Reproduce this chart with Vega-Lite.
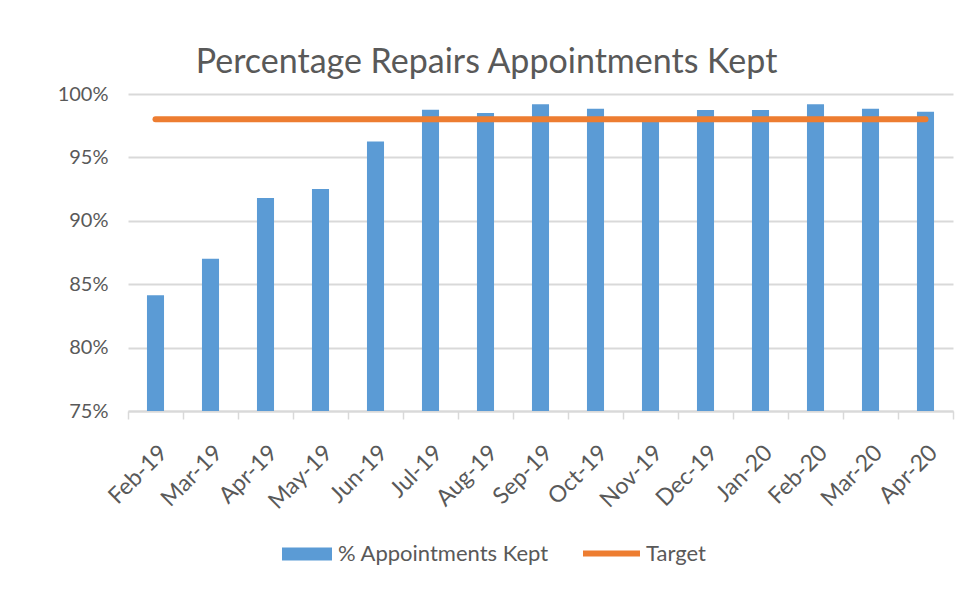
{
  "$schema": "https://vega.github.io/schema/vega-lite/v6.json",
  "width": 825,
  "height": 317,
  "autosize": "none",
  "padding": {"left": 128, "top": 94, "right": 2, "bottom": 186},
  "background": "#ffffff",
  "config": {
    "font": "Lato",
    "view": {"stroke": null},
    "axis": {"labelFont": "Lato", "labelColor": "#595959", "labelFontSize": 20, "titleColor": "#595959"},
    "legend": {"labelFont": "Lato", "labelColor": "#595959", "labelFontSize": 22, "labelLimit": 0}
  },
  "title": {
    "text": "Percentage Repairs Appointments Kept",
    "font": "Lato",
    "fontSize": 34,
    "fontWeight": "normal",
    "color": "#595959",
    "anchor": "middle",
    "frame": "group",
    "dx": -54,
    "offset": 4
  },
  "data": {
    "values": [
      {"month": "Feb-19", "value": 0.8413, "target": 0.98},
      {"month": "Mar-19", "value": 0.870, "target": 0.98},
      {"month": "Apr-19", "value": 0.918, "target": 0.98},
      {"month": "May-19", "value": 0.925, "target": 0.98},
      {"month": "Jun-19", "value": 0.9626, "target": 0.98},
      {"month": "Jul-19", "value": 0.9876, "target": 0.98},
      {"month": "Aug-19", "value": 0.985, "target": 0.98},
      {"month": "Sep-19", "value": 0.9919, "target": 0.98},
      {"month": "Oct-19", "value": 0.9884, "target": 0.98},
      {"month": "Nov-19", "value": 0.979, "target": 0.98},
      {"month": "Dec-19", "value": 0.9874, "target": 0.98},
      {"month": "Jan-20", "value": 0.9874, "target": 0.98},
      {"month": "Feb-20", "value": 0.9919, "target": 0.98},
      {"month": "Mar-20", "value": 0.9884, "target": 0.98},
      {"month": "Apr-20", "value": 0.986, "target": 0.98}
    ]
  },
  "encoding": {
    "x": {
      "field": "month",
      "type": "nominal",
      "sort": null,
      "scale": {"paddingInner": 0, "paddingOuter": 0},
      "axis": {
        "title": null,
        "labelAngle": -45,
        "labelFontSize": 23,
        "tickBand": "extent",
        "grid": false,
        "domainColor": "#d9d9d9",
        "domainWidth": 2,
        "tickColor": "#d9d9d9",
        "tickWidth": 1.5,
        "tickSize": 8,
        "labelPadding": 22
      }
    }
  },
  "layer": [
    {
      "mark": {"type": "bar", "width": {"band": 0.31}},
      "encoding": {
        "y": {
          "field": "value",
          "type": "quantitative",
          "scale": {"domain": [0.75, 1], "zero": false, "nice": false},
          "axis": {
            "title": null,
            "format": ".0%",
            "values": [0.75, 0.8, 0.85, 0.9, 0.95, 1.0],
            "domain": false,
            "ticks": false,
            "labelPadding": 20,
            "gridColor": "#d9d9d9",
            "gridWidth": 2
          }
        },
        "y2": {"datum": 0.75},
        "fill": {
          "datum": "% Appointments Kept",
          "scale": {"range": ["#5b9bd5"]},
          "legend": {
            "title": null,
            "orient": "none",
            "legendX": 154,
            "legendY": 435,
            "symbolType": "M-1,-0.26H1V0.26H-1Z",
            "symbolSize": 2500,
            "symbolStrokeWidth": 0,
            "labelOffset": 6
          }
        }
      }
    },
    {
      "mark": {"type": "line", "strokeWidth": 6, "strokeCap": "round"},
      "encoding": {
        "y": {"field": "target", "type": "quantitative"},
        "stroke": {
          "datum": "Target",
          "scale": {"range": ["#ed7d31"]},
          "legend": {
            "title": null,
            "orient": "none",
            "legendX": 452,
            "legendY": 428,
            "symbolType": "stroke",
            "symbolSize": 3249,
            "symbolStrokeWidth": 6,
            "labelOffset": 3
          }
        }
      }
    }
  ]
}
